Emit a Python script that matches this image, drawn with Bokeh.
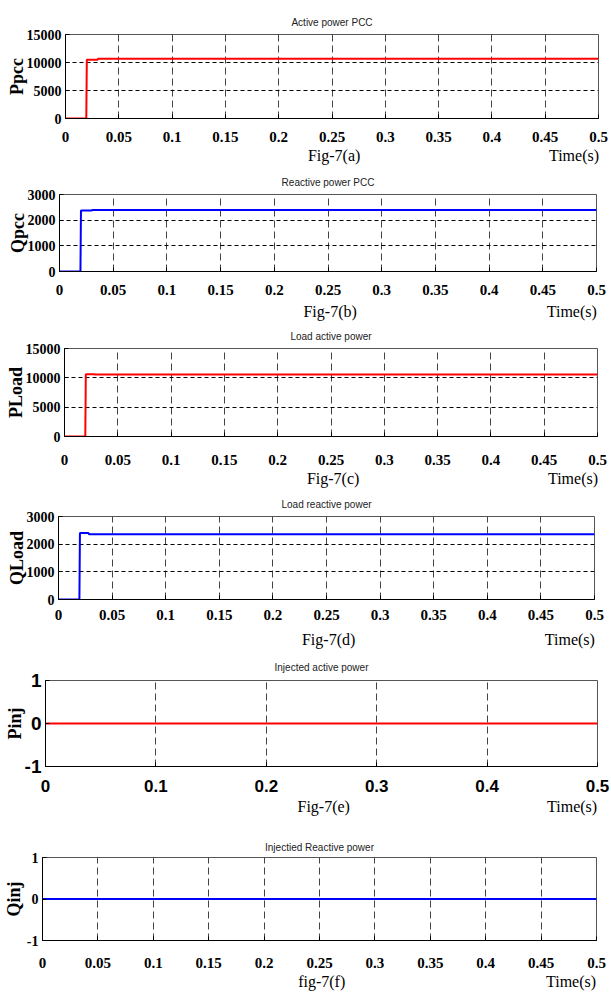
from bokeh.plotting import figure
from bokeh.layouts import column
from bokeh.models import Range1d, FixedTicker, LinearAxis
from bokeh.embed import file_html
from bokeh.resources import INLINE

# ---------------- data ----------------
time_a = [0.0, 0.0195, 0.0200, 0.0300, 0.0305, 0.5]
ppcc = [0, 0, 10500, 10500, 10650, 10650]

time_b = [0.0, 0.0195, 0.0200, 0.0300, 0.0305, 0.5]
qpcc = [0, 0, 2380, 2380, 2400, 2400]

time_c = [0.0, 0.0195, 0.0200, 0.0280, 0.0285, 0.5]
pload = [0, 0, 10600, 10600, 10550, 10550]

time_d = [0.0, 0.0195, 0.0200, 0.0280, 0.0285, 0.5]
qload = [0, 0, 2400, 2400, 2360, 2360]

time_e = [0.0, 0.5]
pinj = [0, 0]

time_f = [0.0, 0.5]
qinj = [0, 0]

x_ticks_fine = [0, 0.05, 0.1, 0.15, 0.2, 0.25, 0.3, 0.35, 0.4, 0.45, 0.5]
x_labels_fine = ["0", "0.05", "0.1", "0.15", "0.2", "0.25", "0.3", "0.35", "0.4", "0.45", "0.5"]
x_ticks_coarse = [0, 0.1, 0.2, 0.3, 0.4, 0.5]
x_labels_coarse = ["0", "0.1", "0.2", "0.3", "0.4", "0.5"]

y_ticks_p = [0, 5000, 10000, 15000]
y_labels_p = ["0", "5000", "10000", "15000"]
y_ticks_q = [0, 1000, 2000, 3000]
y_labels_q = ["0", "1000", "2000", "3000"]
y_ticks_inj = [-1, 0, 1]
y_labels_inj = ["-1", "0", "1"]

titles = ["Active power PCC", "Reactive power PCC", "Load active power",
          "Load reactive power", "Injected active power", "Injectied Reactive power"]
ylabels = ["Ppcc", "Qpcc", "PLoad", "QLoad", "Pinj", "Qinj"]
figlabels = ["Fig-7(a)", "Fig-7(b)", "Fig-7(c)", "Fig-7(d)", "Fig-7(e)", "fig-7(f)"]
xlabel = "Time(s)"

SERIF = "Liberation Serif"
SANS = "Liberation Sans"
W = 611


def panel(t, v, color, yr, yt, yl, xt, xl, title, ylab, flab,
          height, top, bottom, left, right,
          title_standoff, tick_standoff, fig_standoff, ylab_standoff,
          tick_font=SERIF, tick_size="15px", ytick_size="14px"):
    p = figure(width=W, height=height, output_backend="svg", toolbar_location=None,
               x_range=Range1d(0, 0.5), y_range=Range1d(*yr), title=title,
               min_border_left=left, min_border_right=W - right,
               min_border_top=top, min_border_bottom=bottom)
    p.frame_align = False
    p.background_fill_color = "white"
    p.border_fill_color = "white"
    p.outline_line_color = "#555555"
    p.outline_line_width = 1

    p.title.align = "center"
    p.title.text_font = SANS
    p.title.text_font_size = "10px"
    p.title.text_font_style = "normal"
    p.title.text_color = "#222222"
    p.title.standoff = title_standoff

    xax = p.xaxis[0]
    yax = p.yaxis[0]
    xax.ticker = FixedTicker(ticks=xt)
    xax.major_label_overrides = {k: s for k, s in zip(xt, xl)}
    yax.ticker = FixedTicker(ticks=yt)
    yax.major_label_overrides = {k: s for k, s in zip(yt, yl)}
    for ax in (xax, yax):
        ax.axis_line_color = "black"
        ax.axis_line_width = 1
        ax.major_tick_in = 4
        ax.major_tick_out = 0
        ax.minor_tick_line_color = None
        ax.major_tick_line_color = "black"
        ax.major_label_text_font = tick_font
        ax.major_label_text_font_style = "bold"
        ax.major_label_text_color = "black"
    xax.major_label_text_font_size = tick_size
    yax.major_label_text_font_size = ytick_size
    xax.major_label_standoff = tick_standoff
    yax.major_label_standoff = 4

    yax.axis_label = ylab
    yax.axis_label_text_font = SERIF
    yax.axis_label_text_font_style = "bold"
    yax.axis_label_text_font_size = "18px"
    yax.axis_label_text_color = "black"
    yax.axis_label_standoff = ylab_standoff

    # second row under the tick labels: figure caption and time label
    cap = LinearAxis(ticker=FixedTicker(ticks=[0.252, 0.477]),
                     major_label_overrides={0.252: flab, 0.477: xlabel},
                     axis_line_color=None, major_tick_line_color=None,
                     minor_tick_line_color=None,
                     major_label_text_font=SERIF, major_label_text_font_size="16px",
                     major_label_text_color="black",
                     major_label_standoff=fig_standoff)
    p.add_layout(cap, "below")

    p.xgrid.ticker = FixedTicker(ticks=xt)
    p.xgrid.grid_line_color = "#444444"
    p.xgrid.grid_line_dash = "7 4"
    p.xgrid.grid_line_width = 1
    p.ygrid.ticker = FixedTicker(ticks=yt)
    p.ygrid.grid_line_color = "black"
    p.ygrid.grid_line_dash = "4 3"
    p.ygrid.grid_line_width = 1

    p.line(t, v, line_color=color, line_width=2)
    return p


pa = panel(time_a, ppcc, "#ff0000", (0, 15000), y_ticks_p, y_labels_p,
           x_ticks_fine, x_labels_fine, titles[0], ylabels[0], figlabels[0],
           168, 34, 50, 65, 598, 13, 13, -4, -3)
pb = panel(time_b, qpcc, "#0000ff", (0, 3000), y_ticks_q, y_labels_q,
           x_ticks_fine, x_labels_fine, titles[1], ylabels[1], figlabels[1],
           154, 26, 50, 59, 596, 13, 13, -1, -3)
pc = panel(time_c, pload, "#ff0000", (0, 15000), y_ticks_p, y_labels_p,
           x_ticks_fine, x_labels_fine, titles[2], ylabels[2], figlabels[2],
           167, 26, 52, 64, 597, 13, 18, -4, -3)
pd = panel(time_d, qload, "#0000ff", (0, 3000), y_ticks_q, y_labels_q,
           x_ticks_fine, x_labels_fine, titles[3], ylabels[3], figlabels[3],
           161, 27, 51, 58, 594, 14, 10, 2, -3)
pe = panel(time_e, pinj, "#ff0000", (-1, 1), y_ticks_inj, y_labels_inj,
           x_ticks_coarse, x_labels_coarse, titles[4], ylabels[4], figlabels[4],
           168, 30, 52, 45, 597, 16, 13, -3, -3,
           tick_font=SANS, tick_size="17px", ytick_size="19px")
pf = panel(time_f, qinj, "#0000ff", (-1, 1), y_ticks_inj, y_labels_inj,
           x_ticks_fine, x_labels_fine, titles[5], ylabels[5], figlabels[5],
           174, 39, 50, 42, 596, 9, 17, -4, 0)

layout = column(pa, pb, pc, pd, pe, pf, spacing=0)
open("out.html", "w").write(file_html(layout, INLINE))
